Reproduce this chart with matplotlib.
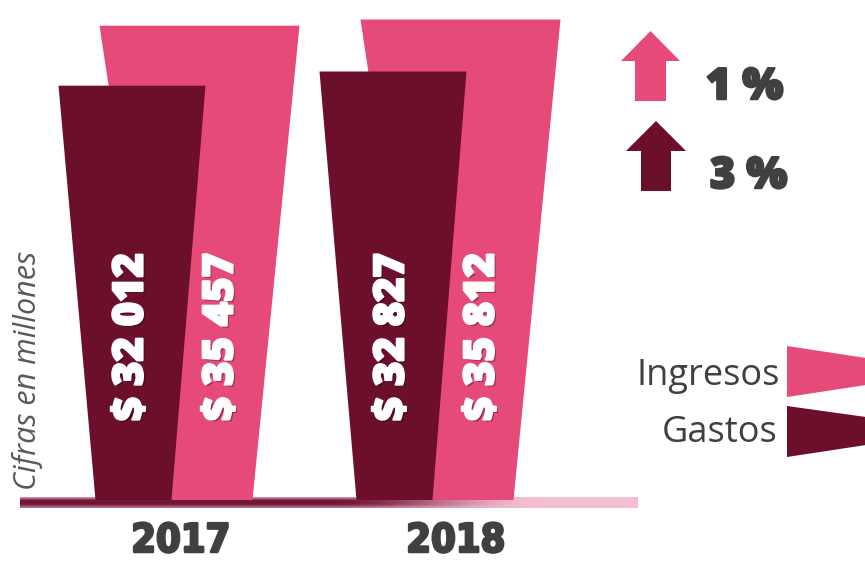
import numpy as np
import matplotlib.pyplot as plt
from matplotlib.patches import Polygon
import matplotlib.patheffects as pe

# Data (cifras en millones)
years = ['2017', '2018']
ingresos = [35457, 35812]
gastos = [32012, 32827]
series_names = ['Ingresos', 'Gastos']
growth_labels = ['1 %', '3 %']
y_title = 'Cifras en millones'

PINK = '#E64A78'
MAROON = '#6B0F2B'
GRAY = '#404040'

W, H = 865, 561
fig = plt.figure(figsize=(W / 100, H / 100), dpi=100)

# Overlay in pixel units for decorations (arrows, legend, titles)
ov = fig.add_axes([0, 0, 1, 1], zorder=0)
ov.set_xlim(0, W)
ov.set_ylim(H, 0)
ov.axis('off')

# Value axis: categories on x, money on y (truncated baseline)
base_value = 8215.0
px_per_unit = 0.01741
base_px = 500
cat_step = 261.0
cat0_px = 171.5
ax = fig.add_axes([0, 0, 1, 1], zorder=1)
ax.patch.set_alpha(0)
ax.set_xlim(-cat0_px / cat_step, (W - cat0_px) / cat_step)
ax.set_ylim(base_value - (H - base_px) / px_per_unit,
            base_value + base_px / px_per_unit)
ax.axis('off')

def px_to_x(p):
    return p / cat_step

# trapezoid shapes (offsets from category centre, pixels): bottom span, top span
shapes = {
    'Ingresos': ((0, 81), (-72, 128)),
    'Gastos': ((-76, 0), (-113, 34)),
}
colors = {'Ingresos': PINK, 'Gastos': MAROON}
label_dx = {'Ingresos': 50, 'Gastos': -40}
values = {'Ingresos': ingresos, 'Gastos': gastos}

label_y = base_value + (base_px - 337) / px_per_unit
label_fx = [pe.withSimplePatchShadow(offset=(1.5, -1.5), shadow_rgbFace='black', alpha=0.35),
            pe.withStroke(linewidth=1.6, foreground='white')]

for name in ['Ingresos', 'Gastos']:
    (b0, b1), (t0, t1) = shapes[name]
    for i, v in enumerate(values[name]):
        poly = Polygon([(i + px_to_x(b0), base_value), (i + px_to_x(b1), base_value),
                        (i + px_to_x(t1), v), (i + px_to_x(t0), v)],
                       closed=True, facecolor=colors[name], edgecolor='none', zorder=3)
        ax.add_patch(poly)
        txt = '$ ' + f'{v:,}'.replace(',', ' ')
        ax.text(i + px_to_x(label_dx[name]), label_y, txt, rotation=90,
                ha='center', va='center', color='white', fontsize=30,
                fontfamily='Open Sans', fontweight='extra bold', zorder=5,
                path_effects=label_fx)

# Baseline band with a maroon-to-pink gradient
x0, x1, y0, y1 = 20, 638, 497, 508
nx, ny = 400, 24
xs = np.linspace(x0, x1, nx)
t = np.clip((xs - 330) / (540 - 330), 0, 1)
t = t * t * (3 - 2 * t)
dark = np.array([0x70, 0x14, 0x32]) / 255
light = np.array([0xF5, 0xBF, 0xD0]) / 255
basecol = dark[None, :] * (1 - t[:, None]) + light[None, :] * t[:, None]
u = np.linspace(0, 1, ny)
w = 0.75 * np.exp(-(u / 0.18) ** 2) + 0.55 * np.exp(-((u - 1) / 0.22) ** 2)
img = basecol[None, :, :] * (1 - w[:, None, None]) + light[None, None, :] * w[:, None, None]
ov.imshow(img, extent=(x0, x1, y1, y0), aspect='auto', interpolation='bilinear', zorder=1)

# Year labels
heavy_gray = [pe.withStroke(linewidth=1.8, foreground=GRAY)]
year_px = [181, 456]
for yr, xp in zip(years, year_px):
    ov.text(xp, 552, yr, ha='center', va='baseline', color=GRAY, fontsize=28.5,
            fontfamily='DejaVu Sans', fontweight='bold', fontstretch='condensed',
            path_effects=heavy_gray)

# Growth arrows
def up_arrow(tip_x, tip_y, head_w, head_h, shaft_w, bottom, color):
    pts = [(tip_x, tip_y), (tip_x + head_w / 2, tip_y + head_h),
           (tip_x + shaft_w / 2, tip_y + head_h), (tip_x + shaft_w / 2, bottom),
           (tip_x - shaft_w / 2, bottom), (tip_x - shaft_w / 2, tip_y + head_h),
           (tip_x - head_w / 2, tip_y + head_h)]
    ov.add_patch(Polygon(pts, closed=True, facecolor=color, edgecolor='none'))

up_arrow(650.5, 31, 59, 30, 31, 101, PINK)
up_arrow(656, 121, 60, 30, 30, 191, MAROON)
ov.text(706, 99, growth_labels[0], ha='left', va='baseline', color=GRAY, fontsize=31,
        fontfamily='Open Sans', fontweight='extra bold', path_effects=heavy_gray)
ov.text(710, 188, growth_labels[1], ha='left', va='baseline', color=GRAY, fontsize=31,
        fontfamily='Open Sans', fontweight='extra bold', path_effects=heavy_gray)

# Legend with wedge swatches
ov.text(780, 385, series_names[0], ha='right', va='baseline', color=GRAY, fontsize=26,
        fontfamily='Open Sans')
ov.text(778, 442, series_names[1], ha='right', va='baseline', color=GRAY, fontsize=26,
        fontfamily='Open Sans')
ov.add_patch(Polygon([(787, 346), (866, 358), (866, 385), (787, 397)], closed=True,
                     facecolor=PINK, edgecolor='none'))
ov.add_patch(Polygon([(787, 406), (866, 417), (866, 445), (787, 457)], closed=True,
                     facecolor=MAROON, edgecolor='none'))

# Axis title
ov.text(27, 370, y_title, rotation=90, ha='center', va='center', color='#595959',
        fontsize=22, fontfamily='Open Sans', fontstyle='italic')

fig.savefig('out.png', dpi=100)
